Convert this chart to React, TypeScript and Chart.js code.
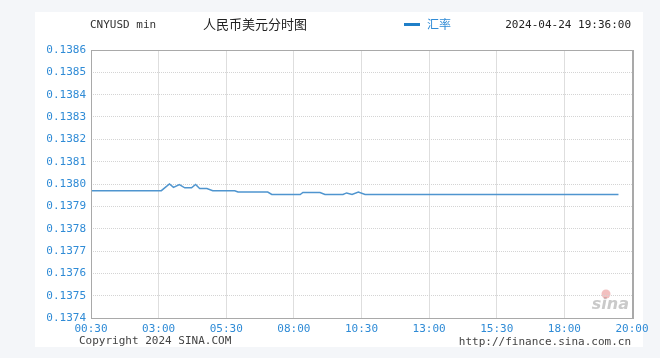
import React, { useEffect, useRef } from "react";
import { Chart, registerables } from "chart.js";

Chart.register(...registerables);

// ---- data ----
const tickLabels = ["00:30", "03:00", "05:30", "08:00", "10:30", "13:00", "15:30", "18:00", "20:00"];
const yTicks = { min: 0.1374, max: 0.1386, step: 0.0001 };
const seriesName = "汇率";
const times = [
  "00:30", "03:06", "03:24", "03:33", "03:46", "03:58", "04:13", "04:22", "04:31", "04:47",
  "05:00", "05:49", "05:56", "07:02", "07:11", "08:14", "08:20", "08:58", "09:09", "09:49",
  "09:57", "10:09", "10:23", "10:38", "19:36",
];
const rates = [
  0.13797, 0.13797, 0.138, 0.137985, 0.137997, 0.137983, 0.137983, 0.137998, 0.13798, 0.13798,
  0.13797, 0.13797, 0.137964, 0.137964, 0.137953, 0.137953, 0.137962, 0.137962, 0.137953, 0.137953,
  0.13796, 0.137953, 0.137964, 0.137953, 0.137953,
];
const titleLeft = "CNYUSD min";
const titleMain = "人民币美元分时图";
const stamp = "2024-04-24 19:36:00";
const copyright = "Copyright 2024 SINA.COM";
const siteUrl = "http://finance.sina.com.cn";

const toMin = (t: string) => {
  const [h, m] = t.split(":").map(Number);
  return h * 60 + m;
};
const tickMins = tickLabels.map(toMin);
// the axis spaces its labelled times evenly, so position is piecewise by segment
const toAxis = (t: string) => {
  const m = toMin(t);
  for (let i = 0; i < tickMins.length - 1; i++) {
    if (m <= tickMins[i + 1]) return i + (m - tickMins[i]) / (tickMins[i + 1] - tickMins[i]);
  }
  return tickMins.length - 1;
};

const MONO = "'DejaVu Sans Mono', monospace";
const CJK = "'Noto Sans CJK SC', sans-serif";
const BLUE_TXT = "#2f8bd6";
const LINE = "#4f95cf";

const decor = {
  id: "decor",
  beforeDraw(chart: any) {
    const ctx = chart.ctx;
    ctx.save();
    ctx.fillStyle = "#f4f6f9";
    ctx.fillRect(0, 0, chart.width, chart.height);
    ctx.fillStyle = "#ffffff";
    ctx.fillRect(35, 12, 608, 335);
    // sina watermark
    ctx.fillStyle = "#cacaca";
    ctx.font = "italic bold 16px 'DejaVu Sans', sans-serif";
    ctx.textAlign = "right";
    ctx.textBaseline = "alphabetic";
    ctx.fillText("sina", 629, 309);
    ctx.fillStyle = "rgba(230,130,130,0.5)";
    ctx.beginPath();
    ctx.arc(606, 294, 4.5, 0, Math.PI * 2);
    ctx.fill();
    ctx.restore();
  },
  afterDraw(chart: any) {
    const ctx = chart.ctx;
    const a = chart.chartArea;
    ctx.save();
    ctx.strokeStyle = "#a9a9a9";
    ctx.lineWidth = 1;
    ctx.strokeRect(Math.round(a.left) + 0.5, Math.round(a.top) + 0.5, Math.round(a.right - a.left), Math.round(a.bottom - a.top));
    ctx.beginPath();
    ctx.moveTo(Math.round(a.right) + 1.5, a.top);
    ctx.lineTo(Math.round(a.right) + 1.5, a.bottom + 1);
    ctx.stroke();

    ctx.textBaseline = "middle";
    ctx.textAlign = "left";
    ctx.fillStyle = "#333";
    ctx.font = `11px ${MONO}`;
    ctx.fillText(titleLeft, 90, 25);
    ctx.fillStyle = "#222";
    ctx.font = `13px ${CJK}`;
    ctx.fillText(titleMain, 203, 24);

    // legend
    const ds = chart.data.datasets[0];
    ctx.strokeStyle = "#1f7fc8";
    ctx.lineWidth = 3;
    ctx.beginPath();
    ctx.moveTo(404, 24.5);
    ctx.lineTo(420, 24.5);
    ctx.stroke();
    ctx.fillStyle = BLUE_TXT;
    ctx.font = `12px ${CJK}`;
    ctx.fillText(ds.label, 427, 24);

    ctx.textAlign = "right";
    ctx.fillStyle = "#222";
    ctx.font = `11px ${MONO}`;
    ctx.fillText(stamp, 631, 25);

    ctx.fillStyle = "#444";
    ctx.textAlign = "left";
    ctx.fillText(copyright, 79, 341);
    ctx.textAlign = "right";
    ctx.fillText(siteUrl, 631, 342);
    ctx.restore();
  },
};

export default function App() {
  const ref = useRef<HTMLCanvasElement>(null);
  useEffect(() => {
    document.body.style.margin = "0";
    const chart = new Chart(ref.current!, {
      type: "line",
      data: {
        datasets: [
          {
            label: seriesName,
            data: times.map((t, i) => ({ x: toAxis(t), y: rates[i] })),
            borderColor: LINE,
            borderWidth: 1.5,
            pointRadius: 0,
            tension: 0,
            fill: false,
          },
        ],
      },
      options: {
        animation: false,
        responsive: false,
        layout: { padding: { top: 50, right: 28, left: 0, bottom: 0 } },
        plugins: { legend: { display: false }, tooltip: { enabled: false } },
        scales: {
          x: {
            type: "linear",
            min: 0,
            max: tickLabels.length - 1,
            afterFit: (s: any) => {
              s.height = 40;
            },
            afterBuildTicks: (s: any) => {
              s.ticks = tickLabels.map((_, i) => ({ value: i }));
            },
            ticks: {
              autoSkip: false,
              maxRotation: 0,
              padding: 5,
              color: BLUE_TXT,
              font: { family: MONO, size: 11 },
              callback: (v: any) => tickLabels[v] ?? "",
            },
            grid: { color: "#dedede", drawTicks: false },
            border: { display: false },
          },
          y: {
            min: yTicks.min,
            max: yTicks.max,
            afterFit: (s: any) => {
              s.width = 91;
            },
            afterBuildTicks: (s: any) => {
              const n = Math.round((yTicks.max - yTicks.min) / yTicks.step);
              s.ticks = Array.from({ length: n + 1 }, (_, i) => ({ value: yTicks.min + i * yTicks.step }));
            },
            ticks: {
              padding: 5,
              color: BLUE_TXT,
              font: { family: MONO, size: 11 },
              callback: (v: any) => Number(v).toFixed(4),
            },
            grid: { color: "#d4d4d4", drawTicks: false },
            border: { display: false, dash: [1, 1] },
          },
        },
      },
      plugins: [decor],
    });
    return () => chart.destroy();
  }, []);
  return (
    <div style={{ position: "absolute", left: 0, top: 0, width: 660, height: 358 }}>
      <canvas ref={ref} width={660} height={358} style={{ width: 660, height: 358, display: "block" }} />
    </div>
  );
}
